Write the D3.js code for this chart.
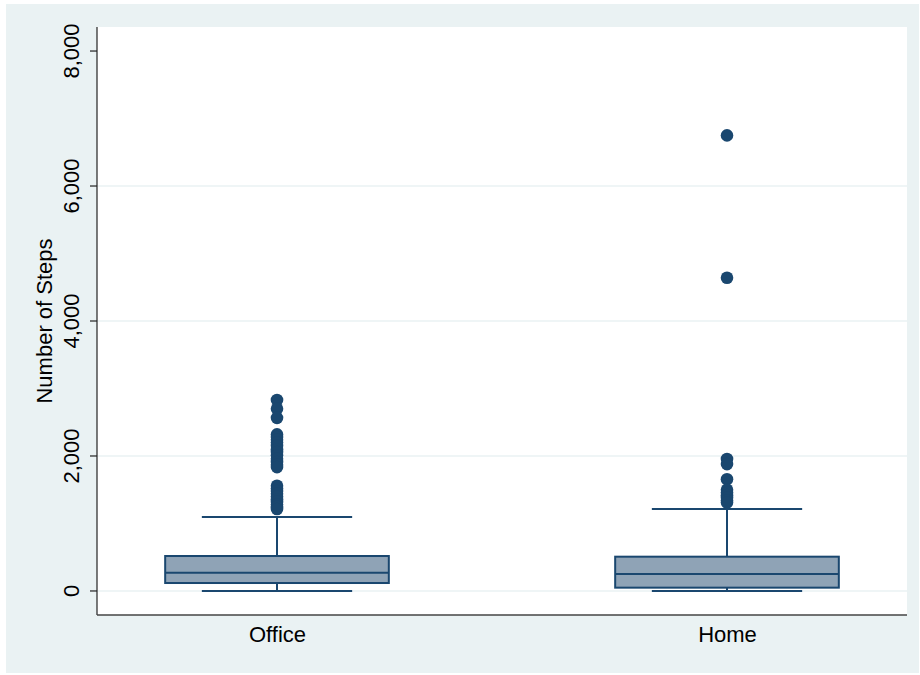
<!DOCTYPE html>
<html>
<head>
<meta charset="utf-8">
<script src="https://cdn.jsdelivr.net/npm/d3@7"></script>
<style>
  html, body { margin: 0; padding: 0; background: #ffffff; }
  svg { display: block; font-family: "Liberation Sans", Arial, sans-serif; }
</style>
</head>
<body>
<svg id="chart" width="920" height="675"></svg>
<script>
// Step counts by work location
const categories = ["Office", "Home"];
const q1 = [118, 49];
const medians = [271, 252];
const q3 = [518, 508];
const whiskerLow = [0, 0];
const whiskerHigh = [1096, 1215];
const outliersOffice = [2830, 2700, 2565, 2320, 2280, 2240, 2200, 2150, 2100, 2060, 2010, 1960, 1910,
  1870, 1835, 1560, 1520, 1480, 1440, 1400, 1360, 1320, 1280, 1250, 1215];
const outliersHome = [6750, 4640, 1955, 1880, 1655, 1500, 1460, 1420, 1380, 1340, 1310];
const outliers = [outliersOffice, outliersHome];
const yTicks = [0, 2000, 4000, 6000, 8000];
const yTitle = "Number of Steps";

const svg = d3.select("#chart");
const W = 920, H = 675;
const plot = { left: 97, right: 907, top: 27, bottom: 615 };
const navy = "#1a476f";
const boxFill = "#8fa3b6";

// outer graph region
svg.append("rect").attr("x", 6).attr("y", 4).attr("width", 913).attr("height", 669)
  .attr("fill", "#eaf2f3");
// plot region
svg.append("rect").attr("x", plot.left).attr("y", plot.top)
  .attr("width", plot.right - plot.left).attr("height", plot.bottom - plot.top)
  .attr("fill", "#ffffff");

const x = d3.scalePoint().domain(categories).range([plot.left, plot.right]).padding(0.4);
const y = d3.scaleLinear().domain([-356, 8356]).range([plot.bottom, plot.top]);
const step = x.step();
const boxW = step * 0.497;
const capW = step * 0.334;

// gridlines (not at the top tick)
svg.append("g").selectAll("line").data(yTicks.filter(t => t < 8000)).join("line")
  .attr("x1", plot.left).attr("x2", plot.right)
  .attr("y1", d => y(d)).attr("y2", d => y(d))
  .attr("stroke", "#eaf2f3").attr("stroke-width", 1.5);

// y axis
const yAxis = d3.axisLeft(y).tickValues(yTicks).tickSize(7).tickPadding(0)
  .tickFormat(d3.format(","));
const gy = svg.append("g").attr("transform", `translate(${plot.left},0)`).call(yAxis);
gy.select(".domain").attr("d", `M0,${plot.top}V${plot.bottom}`).attr("stroke", "#222").attr("stroke-width", 1.2);
gy.selectAll(".tick line").attr("stroke", "#222").attr("stroke-width", 1.2);
gy.selectAll(".tick text")
  .attr("font-size", 22).attr("fill", "#000")
  .attr("text-anchor", "middle")
  .attr("transform", "rotate(-90)")
  .attr("x", function() { return -y(d3.select(this.parentNode).datum()); })
  .attr("y", -18)
  .attr("dy", 0);
gy.selectAll(".tick").attr("transform", d => `translate(0,${y(d)})`);
gy.selectAll(".tick text").attr("x", 0).attr("transform", "rotate(-90)").attr("y", -18);

// x axis
const xAxis = d3.axisBottom(x).tickSize(0).tickPadding(0);
const gx = svg.append("g").attr("transform", `translate(0,${plot.bottom})`).call(xAxis);
gx.select(".domain").attr("d", `M${plot.left},0H${plot.right}`).attr("stroke", "#444").attr("stroke-width", 1.5);
gx.selectAll(".tick text").attr("font-size", 22).attr("fill", "#000").attr("y", 27).attr("dy", 0);

// y title
svg.append("text").attr("transform", `translate(52,${(y(0) + y(8000)) / 2}) rotate(-90)`)
  .attr("text-anchor", "middle").attr("font-size", 22).attr("fill", "#000")
  .text(yTitle);

// boxes
const g = svg.append("g");
categories.forEach((c, i) => {
  const cx = x(c);
  // whiskers
  g.append("line").attr("x1", cx).attr("x2", cx).attr("y1", y(q3[i])).attr("y2", y(whiskerHigh[i]))
    .attr("stroke", navy).attr("stroke-width", 2);
  g.append("line").attr("x1", cx).attr("x2", cx).attr("y1", y(q1[i])).attr("y2", y(whiskerLow[i]))
    .attr("stroke", navy).attr("stroke-width", 2);
  g.append("line").attr("x1", cx - capW / 2).attr("x2", cx + capW / 2)
    .attr("y1", y(whiskerHigh[i])).attr("y2", y(whiskerHigh[i])).attr("stroke", navy).attr("stroke-width", 2);
  g.append("line").attr("x1", cx - capW / 2).attr("x2", cx + capW / 2)
    .attr("y1", y(whiskerLow[i])).attr("y2", y(whiskerLow[i])).attr("stroke", navy).attr("stroke-width", 2);
  // box
  g.append("rect").attr("x", cx - boxW / 2).attr("width", boxW)
    .attr("y", y(q3[i])).attr("height", y(q1[i]) - y(q3[i]))
    .attr("fill", boxFill).attr("stroke", navy).attr("stroke-width", 2);
  g.append("line").attr("x1", cx - boxW / 2).attr("x2", cx + boxW / 2)
    .attr("y1", y(medians[i])).attr("y2", y(medians[i])).attr("stroke", navy).attr("stroke-width", 2);
  // outliers
  g.append("g").selectAll("circle").data(outliers[i]).join("circle")
    .attr("cx", cx).attr("cy", d => y(d)).attr("r", 6.3).attr("fill", navy);
});
</script>
</body>
</html>
